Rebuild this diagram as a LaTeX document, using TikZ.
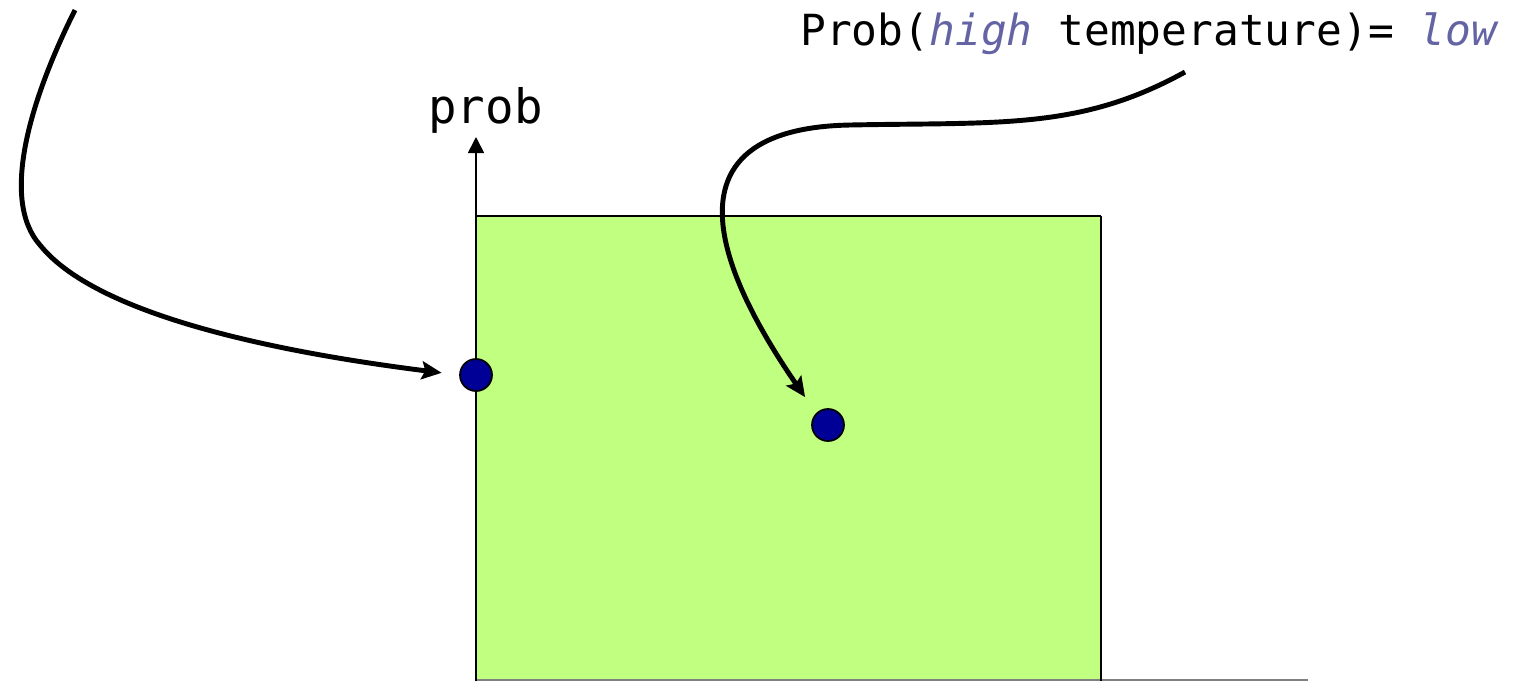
\documentclass[tikz,border=0pt]{standalone}
\usepackage{fontspec}
\usetikzlibrary{arrows.meta}
\setmainfont{DejaVu Sans Mono}
\definecolor{boxgreen}{RGB}{192,255,128}
\definecolor{dotblue}{RGB}{0,0,150}
\definecolor{slate}{RGB}{100,100,165}
\tikzset{
  pt/.style={draw=black, line width=1pt, fill=dotblue, circle, minimum size=0.64cm, inner sep=0pt},
  curve/.style={-{Stealth[length=0.4cm, width=0.36cm, inset=0.07cm]}, line width=2.8pt},
  lbl/.style={inner sep=0pt, anchor=base west}
}
\begin{document}
\begin{tikzpicture}[x=0.02cm, y=-0.02cm, >={Triangle[length=0.32cm, width=0.32cm]}]
        \useasboundingbox (0,0) rectangle (1513,681);
        % 区域与坐标轴
        \fill[boxgreen] (476,216) rectangle (1101,681);
        \draw[gray, line width=1pt] (476,680) -- (1308,680);
        \draw[line width=1pt] (1101,216) -- (1101,681);
        \draw[line width=1pt] (476,216) -- (1101,216);
        \draw[->, line width=1pt] (476,681) -- (476,137);

        % 点
        \node[pt] (p1) at (476,375) {};
        \node[pt] (p2) at (828,425) {};

        % 文字
        \node[lbl, font=\fontsize{27}{30}\selectfont] (ylab) at (428,123) {prob};
        \node[lbl, font=\fontsize{24.4}{28}\selectfont] (query) at (800,45)
            {Prob(\textcolor{slate}{\textit{high}} temperature)= \textcolor{slate}{\textit{low}}};
        \coordinate (s1) at (75,10);
        \coordinate (s2) at (1185,72);

        % 箭头
        \draw[curve, shorten >=10pt] (s1) .. controls (30,100) and (0,200) .. (40,245)
            .. controls (100,320) and (300,355) .. (p1.west);
        \draw[curve, shorten >=11pt] (s2) .. controls (1080,130) and (1000,122) .. (850,125)
            .. controls (690,128) and (690,230) .. (p2.north west);
    \end{tikzpicture}
\end{document}
